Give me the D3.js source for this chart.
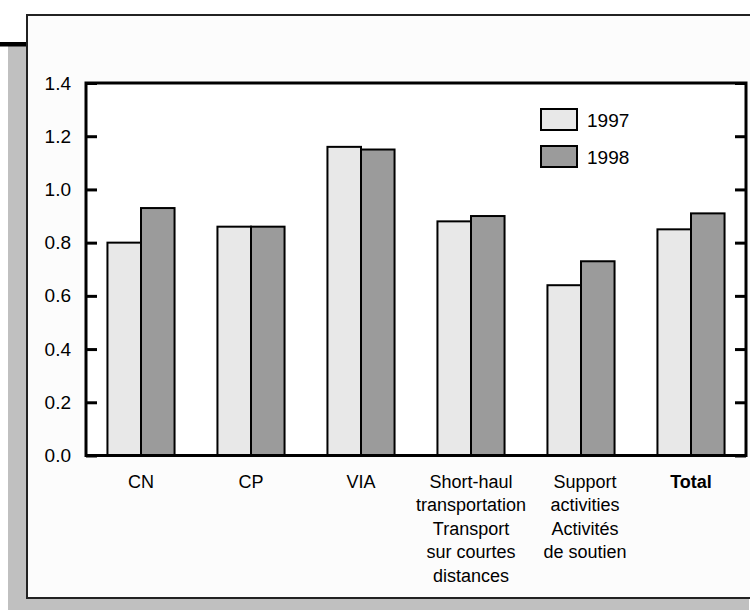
<!DOCTYPE html>
<html>
<head>
<meta charset="utf-8">
<script src="https://cdn.jsdelivr.net/npm/d3@7"></script>
<style>
html, body { margin: 0; padding: 0; background: #ffffff; }
svg { display: block; font-family: "Liberation Sans", Arial, sans-serif; }
</style>
</head>
<body>
<svg id="chart" width="750" height="610"></svg>
<script>
const categories = ["CN", "CP", "VIA", "Short-haul", "Support", "Total"];
const categoryLabels = [
  ["CN"],
  ["CP"],
  ["VIA"],
  ["Short-haul", "transportation", "Transport", "sur courtes", "distances"],
  ["Support", "activities", "Activités", "de soutien"],
  ["Total"]
];
const years = ["1997", "1998"];
const values1997 = [0.80, 0.86, 1.16, 0.88, 0.64, 0.85];
const values1998 = [0.93, 0.86, 1.15, 0.90, 0.73, 0.91];
const yTicks = [0, 0.2, 0.4, 0.6, 0.8, 1.0, 1.2, 1.4];

const colors = { "1997": "#e8e8e8", "1998": "#9b9b9b" };
const series = { "1997": values1997, "1998": values1998 };

const svg = d3.select("#chart");

// Background decorations: shadow, bar, outer box
svg.append("rect").attr("x", 8).attr("y", 46).attr("width", 20).attr("height", 564).attr("fill", "#c0c0c0");
svg.append("rect").attr("x", 8).attr("y", 598).attr("width", 741).attr("height", 12).attr("fill", "#c0c0c0");
svg.append("rect").attr("x", 0).attr("y", 42).attr("width", 28).attr("height", 4.5).attr("fill", "#000");
svg.append("rect").attr("x", 27).attr("y", 15).attr("width", 730).attr("height", 583)
  .attr("fill", "#fcfcfc").attr("stroke", "#222").attr("stroke-width", 2);

const pLeft = 86, pRight = 746, pTop = 83, pBottom = 455.5;

svg.append("rect").attr("x", pLeft).attr("y", pTop).attr("width", pRight - pLeft).attr("height", pBottom - pTop)
  .attr("fill", "#ffffff");

const x0 = d3.scaleBand().domain(categories).range([pLeft, pRight]).paddingInner(0.39).paddingOuter(0.195);
const x1 = d3.scaleBand().domain(years).range([0, x0.bandwidth()]);
const y = d3.scaleLinear().domain([0, 1.4]).range([pBottom, pTop]);

// Bars
const groups = svg.append("g").selectAll("g").data(categories).join("g")
  .attr("transform", d => `translate(${x0(d)},0)`);
groups.selectAll("rect")
  .data((d, i) => years.map(yr => ({ yr, v: series[yr][i] })))
  .join("rect")
  .attr("x", d => x1(d.yr))
  .attr("y", d => y(d.v))
  .attr("width", x1.bandwidth())
  .attr("height", d => y(0) - y(d.v))
  .attr("fill", d => colors[d.yr])
  .attr("stroke", "#000")
  .attr("stroke-width", 2);

// Axes
const yAxisL = svg.append("g").attr("transform", `translate(${pLeft},0)`)
  .call(d3.axisLeft(y).tickValues(yTicks).tickFormat(d3.format(".1f")).tickSizeInner(-11).tickSizeOuter(0).tickPadding(15));
yAxisL.select(".domain").remove();
yAxisL.selectAll(".tick line").attr("stroke", "#000").attr("stroke-width", 3);
yAxisL.selectAll(".tick text").attr("font-size", 19).attr("fill", "#000")
  .attr("font-family", "Liberation Sans, Arial, sans-serif");

const yAxisR = svg.append("g").attr("transform", `translate(${pRight},0)`)
  .call(d3.axisRight(y).tickValues(yTicks).tickFormat("").tickSizeInner(-11).tickSizeOuter(0));
yAxisR.select(".domain").remove();
yAxisR.selectAll(".tick line").attr("stroke", "#000").attr("stroke-width", 3);

// Plot frame
svg.append("rect").attr("x", pLeft).attr("y", pTop).attr("width", pRight - pLeft).attr("height", pBottom - pTop)
  .attr("fill", "none").attr("stroke", "#000").attr("stroke-width", 3);

// Category labels
const labelG = svg.append("g");
categories.forEach((c, i) => {
  const cx = x0(c) + x0.bandwidth() / 2 + (c === "Support" ? 4 : 0);
  const t = labelG.append("text")
    .attr("x", cx)
    .attr("y", 488)
    .attr("text-anchor", "middle")
    .attr("font-size", 18)
    .attr("font-weight", c === "Total" ? "bold" : "normal")
    .attr("fill", "#000");
  categoryLabels[i].forEach((line, j) => {
    t.append("tspan").attr("x", cx).attr("dy", j === 0 ? 0 : 23.4).text(line);
  });
});

// Legend
const legend = svg.append("g");
years.forEach((yr, i) => {
  legend.append("rect").attr("x", 541).attr("y", 109 + i * 37).attr("width", 36).attr("height", 21)
    .attr("fill", colors[yr]).attr("stroke", "#000").attr("stroke-width", 2);
  legend.append("text").attr("x", 587).attr("y", 127 + i * 37).attr("font-size", 19)
    .attr("fill", "#000").text(yr);
});
</script>
</body>
</html>
